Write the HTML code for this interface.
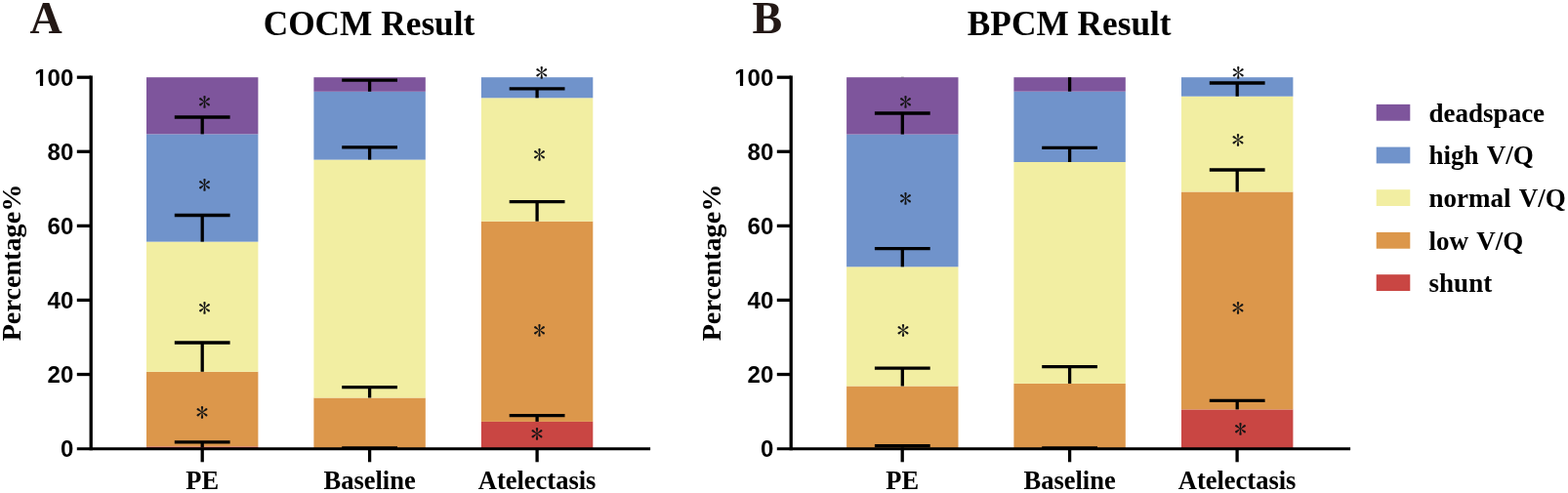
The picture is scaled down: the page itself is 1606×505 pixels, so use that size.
<!DOCTYPE html>
<html><head><meta charset="utf-8"><style>
html,body{margin:0;padding:0;background:#fff;}
svg{display:block;}
.tick{font-family:"Liberation Sans",Arial,sans-serif;font-weight:bold;font-size:24px;fill:#000;}
.xl{font-family:"Liberation Serif","Times New Roman",serif;font-weight:bold;font-size:26.5px;fill:#000;}
.yl{font-family:"Liberation Serif","Times New Roman",serif;font-weight:bold;font-size:28.2px;fill:#000;}
.lg{font-family:"Liberation Serif","Times New Roman",serif;font-weight:bold;font-size:27px;fill:#000;word-spacing:1.8px;}
.ttl{font-family:"Liberation Serif","Times New Roman",serif;font-weight:bold;font-size:35.3px;fill:#000;}
.pn{font-family:"Liberation Serif","Times New Roman",serif;font-weight:bold;font-size:46px;fill:#231815;}
.ast{font-family:"IPAGothic","Liberation Sans",sans-serif;font-size:26px;fill:#141414;text-anchor:middle;}
</style></head><body>
<svg width="1606" height="505" viewBox="0 0 1606 505">
<rect width="1606" height="505" fill="#fff"/>
<text x="30.5" y="33.6" class="pn">A</text>
<text x="770.6" y="33.6" class="pn">B</text>
<text x="378.0" y="35.9" class="ttl" text-anchor="middle">COCM Result</text>
<text x="1095.2" y="35.9" class="ttl" text-anchor="middle">BPCM Result</text>
<rect x="150.00" y="457.40" width="114.4" height="2.20" fill="#C94643"/>
<rect x="150.00" y="380.80" width="114.4" height="76.60" fill="#DC974B"/>
<rect x="150.00" y="247.60" width="114.4" height="133.20" fill="#F2EEA2"/>
<rect x="150.00" y="137.40" width="114.4" height="110.20" fill="#7093CB"/>
<rect x="150.00" y="79.20" width="114.4" height="58.20" fill="#7E559C"/>
<rect x="321.40" y="407.50" width="114.4" height="52.10" fill="#DC974B"/>
<rect x="321.40" y="163.60" width="114.4" height="243.90" fill="#F2EEA2"/>
<rect x="321.40" y="93.80" width="114.4" height="69.80" fill="#7093CB"/>
<rect x="321.40" y="79.20" width="114.4" height="14.60" fill="#7E559C"/>
<rect x="492.90" y="431.90" width="114.4" height="27.70" fill="#C94643"/>
<rect x="492.90" y="226.70" width="114.4" height="205.20" fill="#DC974B"/>
<rect x="492.90" y="100.30" width="114.4" height="126.40" fill="#F2EEA2"/>
<rect x="492.90" y="79.20" width="114.4" height="21.10" fill="#7093CB"/>
<line x1="178.80" y1="452.9" x2="235.60" y2="452.9" stroke="#000" stroke-width="3.3"/>
<line x1="207.2" y1="452.9" x2="207.2" y2="458.4" stroke="#000" stroke-width="3.3"/>
<line x1="178.80" y1="351.0" x2="235.60" y2="351.0" stroke="#000" stroke-width="3.3"/>
<line x1="207.2" y1="351.0" x2="207.2" y2="380.8" stroke="#000" stroke-width="3.3"/>
<line x1="178.80" y1="220.5" x2="235.60" y2="220.5" stroke="#000" stroke-width="3.3"/>
<line x1="207.2" y1="220.5" x2="207.2" y2="247.6" stroke="#000" stroke-width="3.3"/>
<line x1="178.80" y1="120.0" x2="235.60" y2="120.0" stroke="#000" stroke-width="3.3"/>
<line x1="207.2" y1="120.0" x2="207.2" y2="137.4" stroke="#000" stroke-width="3.3"/>
<text x="209.4" y="113.71" class="ast">*</text>
<text x="209.4" y="199.31" class="ast">*</text>
<text x="209.4" y="325.31" class="ast">*</text>
<text x="207.0" y="431.51" class="ast">*</text>
<line x1="350.20" y1="459.0" x2="407.00" y2="459.0" stroke="#000" stroke-width="3.3"/>
<line x1="378.6" y1="459.0" x2="378.6" y2="459.6" stroke="#000" stroke-width="3.3"/>
<line x1="350.20" y1="396.6" x2="407.00" y2="396.6" stroke="#000" stroke-width="3.3"/>
<line x1="378.6" y1="396.6" x2="378.6" y2="407.5" stroke="#000" stroke-width="3.3"/>
<line x1="350.20" y1="150.8" x2="407.00" y2="150.8" stroke="#000" stroke-width="3.3"/>
<line x1="378.6" y1="150.8" x2="378.6" y2="163.6" stroke="#000" stroke-width="3.3"/>
<line x1="350.20" y1="82.1" x2="407.00" y2="82.1" stroke="#000" stroke-width="3.3"/>
<line x1="378.6" y1="82.1" x2="378.6" y2="93.8" stroke="#000" stroke-width="3.3"/>
<line x1="521.70" y1="425.7" x2="578.50" y2="425.7" stroke="#000" stroke-width="3.3"/>
<line x1="550.1" y1="425.7" x2="550.1" y2="431.9" stroke="#000" stroke-width="3.3"/>
<line x1="521.70" y1="206.7" x2="578.50" y2="206.7" stroke="#000" stroke-width="3.3"/>
<line x1="550.1" y1="206.7" x2="550.1" y2="226.7" stroke="#000" stroke-width="3.3"/>
<line x1="521.70" y1="90.8" x2="578.50" y2="90.8" stroke="#000" stroke-width="3.3"/>
<line x1="550.1" y1="90.8" x2="550.1" y2="100.3" stroke="#000" stroke-width="3.3"/>
<text x="554.8" y="84.31" class="ast">*</text>
<text x="552.5" y="168.21" class="ast">*</text>
<text x="552.4" y="347.91" class="ast">*</text>
<text x="550.1" y="454.21" class="ast">*</text>
<rect x="867.10" y="395.50" width="114.4" height="64.10" fill="#DC974B"/>
<rect x="867.10" y="273.30" width="114.4" height="122.20" fill="#F2EEA2"/>
<rect x="867.10" y="137.60" width="114.4" height="135.70" fill="#7093CB"/>
<rect x="867.10" y="79.20" width="114.4" height="58.40" fill="#7E559C"/>
<rect x="1038.40" y="392.90" width="114.4" height="66.70" fill="#DC974B"/>
<rect x="1038.40" y="166.00" width="114.4" height="226.90" fill="#F2EEA2"/>
<rect x="1038.40" y="93.70" width="114.4" height="72.30" fill="#7093CB"/>
<rect x="1038.40" y="79.20" width="114.4" height="14.50" fill="#7E559C"/>
<rect x="1210.00" y="419.40" width="114.4" height="40.20" fill="#C94643"/>
<rect x="1210.00" y="196.50" width="114.4" height="222.90" fill="#DC974B"/>
<rect x="1210.00" y="98.70" width="114.4" height="97.80" fill="#F2EEA2"/>
<rect x="1210.00" y="79.20" width="114.4" height="19.50" fill="#7093CB"/>
<line x1="895.90" y1="456.7" x2="952.70" y2="456.7" stroke="#000" stroke-width="3.3"/>
<line x1="924.3" y1="456.7" x2="924.3" y2="458.6" stroke="#000" stroke-width="3.3"/>
<line x1="895.90" y1="377.2" x2="952.70" y2="377.2" stroke="#000" stroke-width="3.3"/>
<line x1="924.3" y1="377.2" x2="924.3" y2="395.5" stroke="#000" stroke-width="3.3"/>
<line x1="895.90" y1="254.6" x2="952.70" y2="254.6" stroke="#000" stroke-width="3.3"/>
<line x1="924.3" y1="254.6" x2="924.3" y2="273.3" stroke="#000" stroke-width="3.3"/>
<line x1="895.90" y1="116.0" x2="952.70" y2="116.0" stroke="#000" stroke-width="3.3"/>
<line x1="924.3" y1="116.0" x2="924.3" y2="137.6" stroke="#000" stroke-width="3.3"/>
<text x="927.4" y="113.71" class="ast">*</text>
<text x="927.4" y="213.31" class="ast">*</text>
<text x="925.0" y="347.91" class="ast">*</text>
<line x1="1067.20" y1="459.0" x2="1124.00" y2="459.0" stroke="#000" stroke-width="3.3"/>
<line x1="1095.6" y1="459.0" x2="1095.6" y2="459.6" stroke="#000" stroke-width="3.3"/>
<line x1="1067.20" y1="375.6" x2="1124.00" y2="375.6" stroke="#000" stroke-width="3.3"/>
<line x1="1095.6" y1="375.6" x2="1095.6" y2="392.9" stroke="#000" stroke-width="3.3"/>
<line x1="1067.20" y1="151.3" x2="1124.00" y2="151.3" stroke="#000" stroke-width="3.3"/>
<line x1="1095.6" y1="151.3" x2="1095.6" y2="166.0" stroke="#000" stroke-width="3.3"/>
<line x1="1095.6" y1="79.2" x2="1095.6" y2="93.7" stroke="#000" stroke-width="3.3"/>
<line x1="1238.80" y1="410.3" x2="1295.60" y2="410.3" stroke="#000" stroke-width="3.3"/>
<line x1="1267.2" y1="410.3" x2="1267.2" y2="419.4" stroke="#000" stroke-width="3.3"/>
<line x1="1238.80" y1="174.0" x2="1295.60" y2="174.0" stroke="#000" stroke-width="3.3"/>
<line x1="1267.2" y1="174.0" x2="1267.2" y2="196.5" stroke="#000" stroke-width="3.3"/>
<line x1="1238.80" y1="85.0" x2="1295.60" y2="85.0" stroke="#000" stroke-width="3.3"/>
<line x1="1267.2" y1="85.0" x2="1267.2" y2="98.7" stroke="#000" stroke-width="3.3"/>
<text x="1268.3" y="84.21" class="ast">*</text>
<text x="1267.9" y="152.71" class="ast">*</text>
<text x="1268.1" y="325.41" class="ast">*</text>
<text x="1270.4" y="448.61" class="ast">*</text>
<line x1="93.2" y1="77.55" x2="93.2" y2="461.25" stroke="#000" stroke-width="3.3"/>
<line x1="78.8" y1="79.20" x2="93.2" y2="79.20" stroke="#000" stroke-width="3.3"/>
<line x1="78.8" y1="155.28" x2="93.2" y2="155.28" stroke="#000" stroke-width="3.3"/>
<line x1="78.8" y1="231.36" x2="93.2" y2="231.36" stroke="#000" stroke-width="3.3"/>
<line x1="78.8" y1="307.44" x2="93.2" y2="307.44" stroke="#000" stroke-width="3.3"/>
<line x1="78.8" y1="383.52" x2="93.2" y2="383.52" stroke="#000" stroke-width="3.3"/>
<line x1="78.8" y1="459.80" x2="666.1" y2="459.80" stroke="#000" stroke-width="3.1"/>
<line x1="207.2" y1="459.6" x2="207.2" y2="473.3" stroke="#000" stroke-width="3.3"/>
<line x1="378.6" y1="459.6" x2="378.6" y2="473.3" stroke="#000" stroke-width="3.3"/>
<line x1="550.1" y1="459.6" x2="550.1" y2="473.3" stroke="#000" stroke-width="3.3"/>
<clipPath id="c1_0"><rect x="20" y="57.80000000000004" width="70" height="26.70"/><rect x="40.9" y="84.40" width="3.2" height="6"/><rect x="48.4" y="84.40" width="40" height="6"/></clipPath>
<text x="75.3" y="87.80" class="tick" text-anchor="end" clip-path="url(#c1_0)">100</text>
<text x="75.3" y="163.88" class="tick" text-anchor="end">80</text>
<text x="75.3" y="239.96" class="tick" text-anchor="end">60</text>
<text x="75.3" y="316.04" class="tick" text-anchor="end">40</text>
<text x="75.3" y="392.12" class="tick" text-anchor="end">20</text>
<text x="75.3" y="468.20" class="tick" text-anchor="end">0</text>
<text x="207.2" y="501" class="xl" text-anchor="middle">PE</text>
<text x="378.6" y="501" class="xl" text-anchor="middle">Baseline</text>
<text x="550.1" y="501" class="xl" text-anchor="middle">Atelectasis</text>
<text transform="translate(20.5,269.0) rotate(-90)" class="yl" text-anchor="middle">Percentage%</text>
<line x1="810.2" y1="77.55" x2="810.2" y2="461.25" stroke="#000" stroke-width="3.3"/>
<line x1="795.8" y1="79.20" x2="810.2" y2="79.20" stroke="#000" stroke-width="3.3"/>
<line x1="795.8" y1="155.28" x2="810.2" y2="155.28" stroke="#000" stroke-width="3.3"/>
<line x1="795.8" y1="231.36" x2="810.2" y2="231.36" stroke="#000" stroke-width="3.3"/>
<line x1="795.8" y1="307.44" x2="810.2" y2="307.44" stroke="#000" stroke-width="3.3"/>
<line x1="795.8" y1="383.52" x2="810.2" y2="383.52" stroke="#000" stroke-width="3.3"/>
<line x1="795.8" y1="459.80" x2="1383.1" y2="459.80" stroke="#000" stroke-width="3.1"/>
<line x1="924.2" y1="459.6" x2="924.2" y2="473.3" stroke="#000" stroke-width="3.3"/>
<line x1="1095.6" y1="459.6" x2="1095.6" y2="473.3" stroke="#000" stroke-width="3.3"/>
<line x1="1267.1" y1="459.6" x2="1267.1" y2="473.3" stroke="#000" stroke-width="3.3"/>
<clipPath id="c1_717"><rect x="737" y="57.80000000000004" width="70" height="26.70"/><rect x="757.9" y="84.40" width="3.2" height="6"/><rect x="765.4" y="84.40" width="40" height="6"/></clipPath>
<text x="792.3" y="87.80" class="tick" text-anchor="end" clip-path="url(#c1_717)">100</text>
<text x="792.3" y="163.88" class="tick" text-anchor="end">80</text>
<text x="792.3" y="239.96" class="tick" text-anchor="end">60</text>
<text x="792.3" y="316.04" class="tick" text-anchor="end">40</text>
<text x="792.3" y="392.12" class="tick" text-anchor="end">20</text>
<text x="792.3" y="468.20" class="tick" text-anchor="end">0</text>
<text x="924.2" y="501" class="xl" text-anchor="middle">PE</text>
<text x="1095.6" y="501" class="xl" text-anchor="middle">Baseline</text>
<text x="1267.1" y="501" class="xl" text-anchor="middle">Atelectasis</text>
<text transform="translate(737.5,269.0) rotate(-90)" class="yl" text-anchor="middle">Percentage%</text>
<rect x="1409.7" y="106.9" width="34.6" height="16.8" fill="#7E559C"/>
<text x="1463.6" y="124.5" class="lg">deadspace</text>
<rect x="1409.7" y="150.6" width="34.6" height="16.8" fill="#7093CB"/>
<text x="1463.6" y="168.2" class="lg">high V/Q</text>
<rect x="1409.7" y="194.2" width="34.6" height="16.8" fill="#F2EEA2"/>
<text x="1463.6" y="211.8" class="lg">normal V/Q</text>
<rect x="1409.7" y="237.9" width="34.6" height="16.8" fill="#DC974B"/>
<text x="1463.6" y="255.5" class="lg">low V/Q</text>
<rect x="1409.7" y="281.2" width="34.6" height="16.8" fill="#C94643"/>
<text x="1463.6" y="298.8" class="lg">shunt</text>
<rect x="922.8" y="78.3" width="3" height="1.2" fill="#000" fill-opacity="0.22"/>
</svg>
</body></html>
